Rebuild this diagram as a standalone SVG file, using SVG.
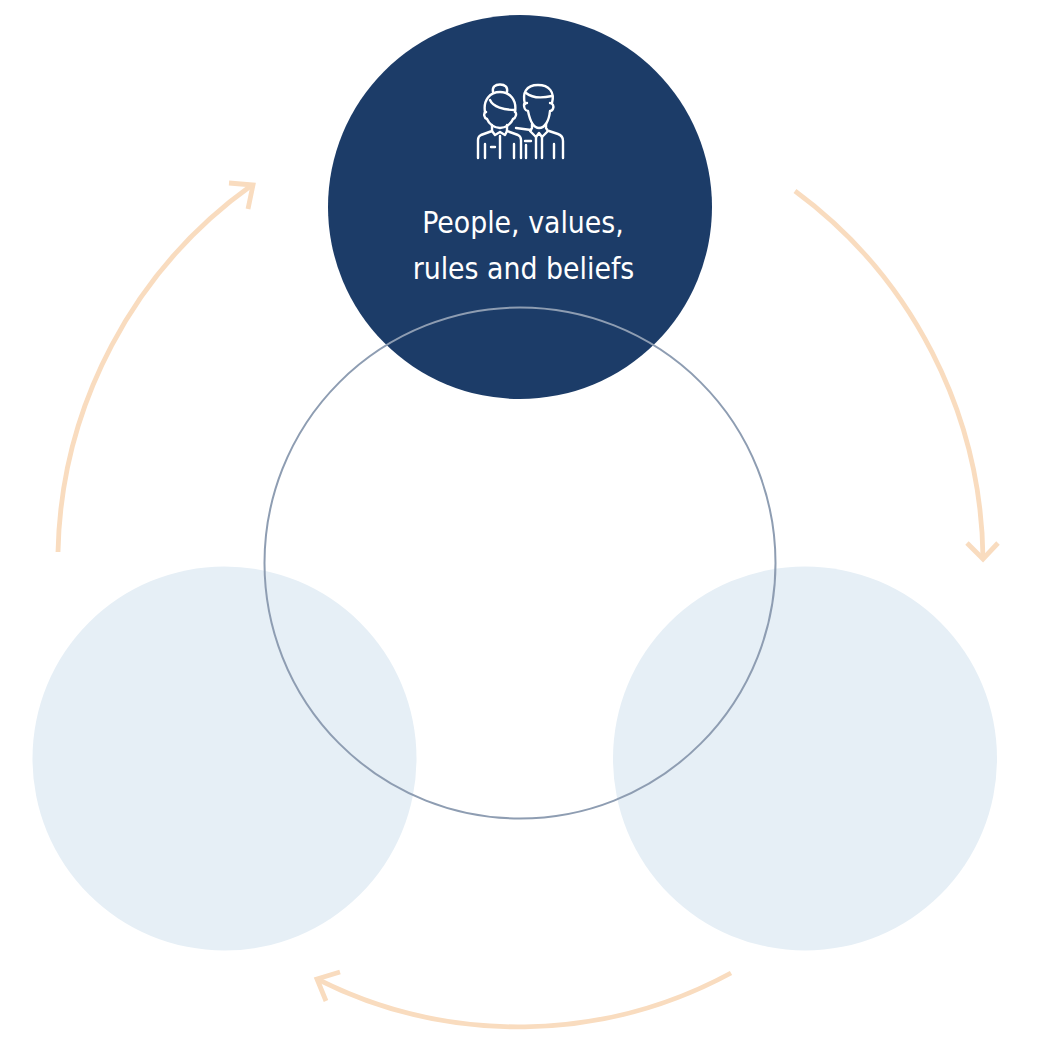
<svg xmlns="http://www.w3.org/2000/svg" width="1043" height="1043" viewBox="0 0 1043 1043">
<style>
.arc{fill:none;stroke:#f9dcbf;stroke-width:4.8}
.ic{fill:none;stroke:#fff;stroke-width:2.4;stroke-linecap:round;stroke-linejoin:round}
.lb{font-family:"DejaVu Sans Condensed","DejaVu Sans",sans-serif;font-size:29.800px;fill:#fff;text-anchor:middle}
.soft{fill:#e6eff6}
</style>
<rect width="1043" height="1043" fill="#fff"/>
<g id="node-left"><circle class="soft" cx="224.500" cy="758.500" r="192"/></g>
<g id="node-right"><circle class="soft" cx="805" cy="758.500" r="192"/></g>
<g id="node-top">
<circle cx="520" cy="207" r="192" fill="#1c3c68"/>
<g id="icon" class="ic">
<path d="M493 92c-1-5 2-7.500 7-7.500s8 2.500 7 7.500"/>
<path d="M485 112c-2-12 5-20 15-20s17 8 15 20"/>
<path d="M490 100c3 7 14 10 25 10"/>
<path d="M486 112c-3 1-2 6 1 7 2 5 7 9 13 9s11-4 13-9c3-1 4-6 2-7"/>
<path d="M492 125v6l-11 4c-2 1-3 3-3 5v18"/>
<path d="M507 125v6l11 4c2 1 3 3 3 5v18"/>
<path d="M492 131l3 4 5-3 5 3 2-4"/>
<path d="M485 144v14M514 144v14M500 136v22M491 147h4"/>
<path d="M525 104c-3-11 1-19 13-19 11 0 17 7 14 18"/>
<path d="M526 93c6 5 17 5 26 3"/>
<path d="M527 103c-1 0-3 0-3 2s1 6 4 6c2 10 5 17 11 17s10-7 11-17c3 0 4-4 3-6s-2-2-3-2"/>
<path d="M532 124v4l-2 3 6 6 3-4 3 4 6-6-2-3v-4"/>
<path d="M531 130l-15 -2M549 131l9 3c3 1 5 4 5 7v17"/>
<path d="M536 137v21M542 137v21M554 144v14M526 145v13M525 141h6"/>
</g>
<text class="lb" x="523" y="233">People, values,</text>
<text class="lb" x="523.500" y="279">rules and beliefs</text>
</g>
<g id="node-center"><circle cx="520" cy="563" r="255.500" fill="none" stroke="#8e9db2" stroke-width="2"/></g>
<g id="connectors">
<path class="arc" d="M795 191A463 463 0 0 1 983 558"/>
<path class="arc" d="M967 543L983 559L998 543"/>
<path class="arc" d="M731 973A447 447 0 0 1 317 979"/>
<path class="arc" d="M340 972L317 979L326 1001"/>
<path class="arc" d="M58 552A463 463 0 0 1 252 185"/>
<path class="arc" d="M229 183L253 185L248 209"/>
</g>
</svg>
